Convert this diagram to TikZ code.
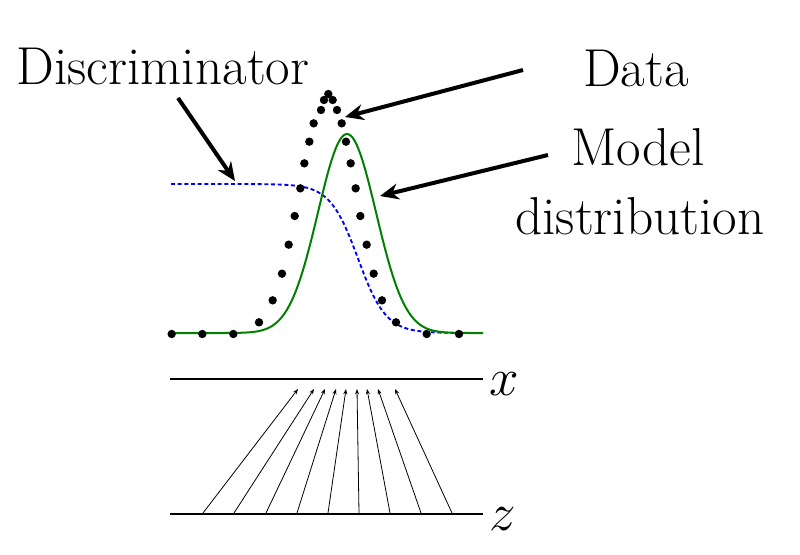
\documentclass[tikz,border=0pt]{standalone}
\usetikzlibrary{arrows.meta}
\begin{document}
\begin{tikzpicture}[x=0.75pt,y=-0.75pt,
  lbl/.style={font=\fontsize{40}{46}\selectfont, inner sep=0pt},
  mlbl/.style={font=\fontsize{24.88}{30}\selectfont, inner sep=0pt, scale=1.6, transform shape},
  bigarrow/.style={line width=3pt,-{Stealth[length=14pt,width=12pt]}},
  thinarrow/.style={line width=0.6pt,-{Stealth[length=4pt,width=3pt]}},
  axis/.style={line width=1.3pt}]
\useasboundingbox (0,0) rectangle (800,554);
% labels
\node[lbl] (disc) at (163,66) {Discriminator};
\node[lbl] (data) at (636,68) {Data};
\node[lbl] (model) at (638,147) {Model};
\node[lbl] (dist) at (640,216) {distribution};
% curves
\draw[blue, densely dashed, line width=1.4pt, domain=171:483, samples=120]
  plot (\x, {184+149/(1+exp(min(max(-(\x-358)/14,-9),9)))});
\draw[green!50!black, line width=1.5pt, domain=170:483, samples=150]
  plot (\x, {333-199*exp(-0.5*min(((\x-347)/29)^2,30))});
\foreach \zx/\zy in {35/762,127/762,220/762,297/727,338/661,366/581,386/494,404/408,421/325,433/250,448/185,461/130,483/90,492/60,505/42,518/60,531/90,545/130,558/185,572/250,587/325,601/408,620/494,641/581,666/661,708/727,800/762,897/762}
  \fill ({\zx/3+160},{\zy/3+80}) circle (4.2);
% big arrows
\coordinate (da) at (235,181);
\coordinate (dd) at (345,117);
\coordinate (md) at (380,196);
\draw[bigarrow] (178,98) -- (da);
\draw[bigarrow] (523,70) -- (dd);
\draw[bigarrow] (548,155) -- (md);
% x and z lines
\coordinate (xl) at (170,379); \coordinate (xr) at (483,379);
\coordinate (zl) at (170,514); \coordinate (zr) at (483,514);
\draw[axis] (xl) -- (xr);
\draw[axis] (zl) -- (zr);
\node[mlbl, anchor=west] (xlab) at (489,384) {$x$};
\node[mlbl, anchor=west] (zlab) at (489,519) {$z$};
\foreach \b/\t in {203/298,234/314,266/325,297/336,328/346,359/357,390/367,421/378,452/395}
  \draw[thinarrow] (\b,513) -- (\t,389);
\end{tikzpicture}
\end{document}
